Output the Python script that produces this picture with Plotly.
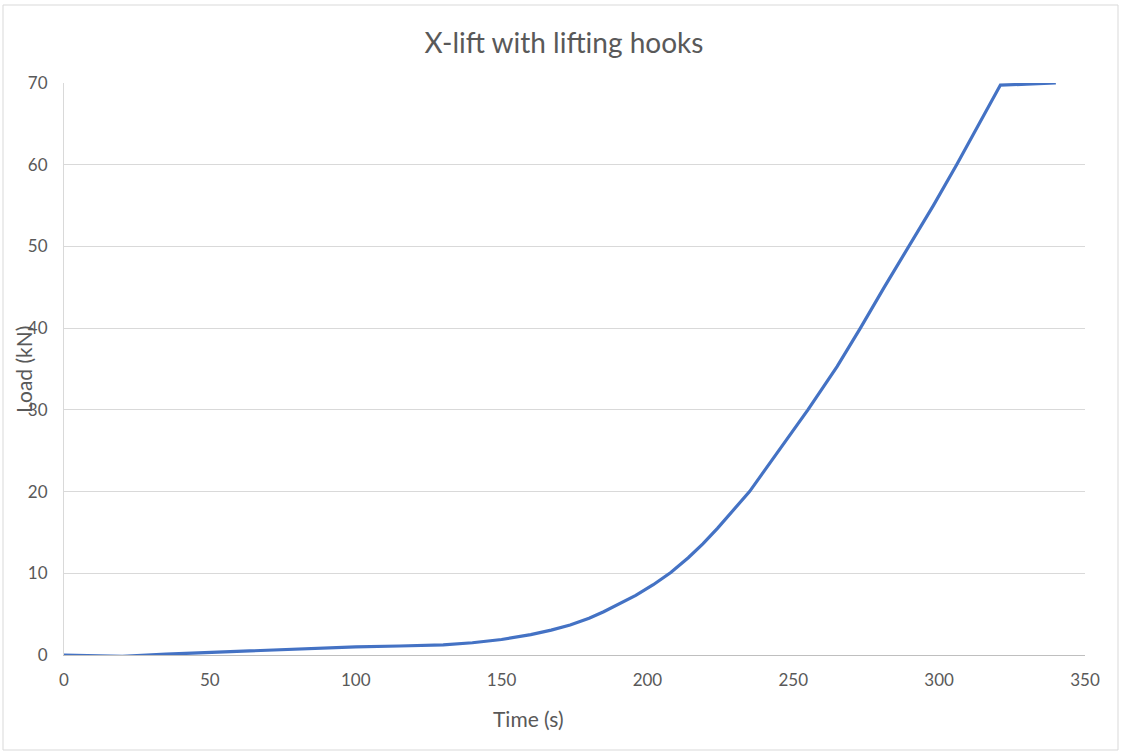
import plotly.graph_objects as go

time_s = [0, 10, 20, 35, 50, 65, 80, 100, 115, 130, 140, 150, 160, 167, 173.5, 180,
          185, 190, 196, 202, 208, 214, 219, 224, 229, 235, 240, 245, 255, 265, 273,
          281, 290, 298, 306, 313, 321, 330, 340]
load_kn = [0, -0.05, -0.15, 0.1, 0.33, 0.5, 0.75, 1.0, 1.1, 1.25, 1.5, 1.9, 2.5, 3.05,
           3.67, 4.5, 5.3, 6.2, 7.3, 8.6, 10.1, 11.9, 13.6, 15.5, 17.5, 20.0, 22.5, 25.0,
           30.0, 35.3, 40.0, 44.9, 50.2, 55.0, 60.0, 64.6, 69.75, 69.85, 70.0]

x_ticks = [0, 50, 100, 150, 200, 250, 300, 350]
y_ticks = [0, 10, 20, 30, 40, 50, 60, 70]

FONT = "Lato, 'Open Sans', sans-serif"
GREY = "#595959"

W, H = 1121, 753
L, R, T, B = 64, 36, 83, 98
pw, ph = W - L - R, H - T - B


def px_to_paper(px, py):
    return (px - L) / pw, (H - B - py) / ph


fig = go.Figure()
fig.add_trace(go.Scatter(x=time_s, y=load_kn, mode="lines",
                         line=dict(color="#4472C4", width=3.2, shape="linear"),
                         showlegend=False, hoverinfo="x+y"))

tx, ty = px_to_paper(528, 718)
lx, ly = px_to_paper(23, 370)
bx0, by0 = px_to_paper(3, 750)
bx1, by1 = px_to_paper(1118, 5)

fig.update_layout(
    width=W, height=H,
    paper_bgcolor="white", plot_bgcolor="white",
    margin=dict(l=L, r=R, t=T, b=B),
    title=dict(text="X-lift with lifting hooks", x=564 / W, xanchor="center",
               y=1 - 43 / H, yanchor="middle",
               font=dict(family=FONT, size=28, color=GREY)),
    xaxis=dict(range=[0, 350], tickvals=x_ticks, showgrid=False, zeroline=False,
               showline=True, linecolor="#BFBFBF", linewidth=1, ticks="",
               tickfont=dict(family=FONT, size=17, color=GREY), ticklabelstandoff=10),
    yaxis=dict(range=[0, 70], tickvals=y_ticks, showgrid=True, gridcolor="#D9D9D9",
               gridwidth=1, zeroline=False, showline=True, linecolor="#D9D9D9",
               ticks="", tickfont=dict(family=FONT, size=17, color=GREY),
               ticklabelstandoff=12),
    annotations=[
        dict(text="Time (s)", x=tx, y=ty, xref="paper", yref="paper",
             xanchor="center", yanchor="middle", showarrow=False,
             font=dict(family=FONT, size=21, color=GREY)),
        dict(text="Load (kN)", x=lx, y=ly, xref="paper", yref="paper",
             xanchor="center", yanchor="middle", showarrow=False, textangle=-90,
             font=dict(family=FONT, size=21, color=GREY)),
    ],
    shapes=[dict(type="rect", xref="paper", yref="paper",
                 x0=bx0, x1=bx1, y0=by0, y1=by1,
                 line=dict(color="#D9D9D9", width=1), fillcolor="rgba(0,0,0,0)",
                 layer="below")],
)

fig.write_html("out.html", config={"displayModeBar": False},
               post_script="document.body.style.margin='0';")
